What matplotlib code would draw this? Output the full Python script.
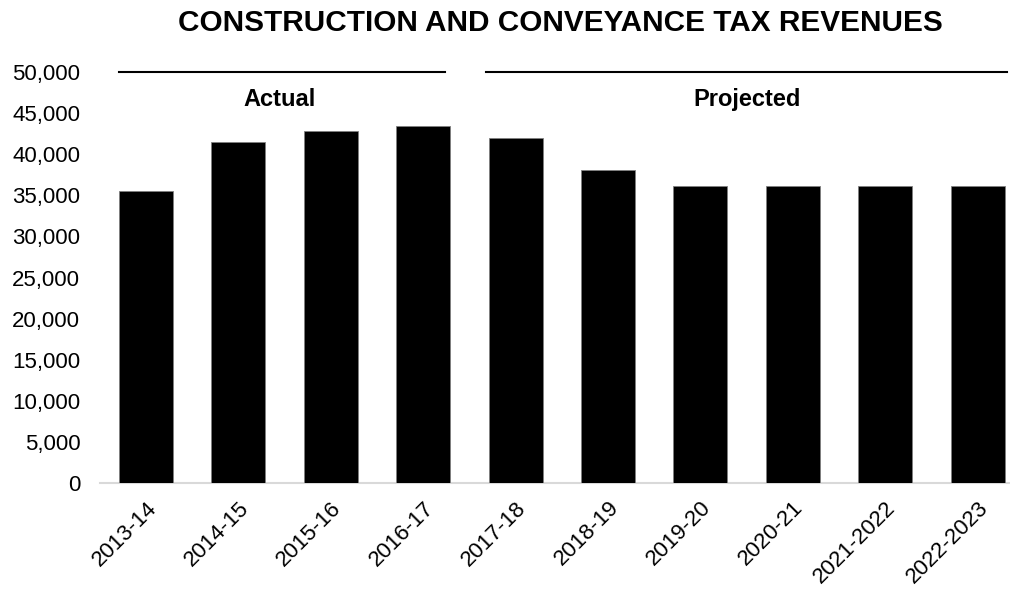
import matplotlib
matplotlib.use("Agg")
import matplotlib.pyplot as plt
from matplotlib.ticker import FuncFormatter

plt.rcParams['font.family'] = ['Liberation Sans', 'DejaVu Sans']

title = "CONSTRUCTION AND CONVEYANCE TAX REVENUES"
years = ["2013-14", "2014-15", "2015-16", "2016-17", "2017-18", "2018-19",
         "2019-20", "2020-21", "2021-2022", "2022-2023"]
revenues = [35500, 41400, 42800, 43400, 42000, 38100, 36100, 36100, 36100, 36100]
y_ticks = list(range(0, 50001, 5000))
period_labels = ["Actual", "Projected"]

fig = plt.figure(figsize=(10.10, 5.92), dpi=100)
ax = fig.add_axes([0.0988, 0.1833, 0.9012, 0.6957])

x = list(range(len(years)))
ax.bar(x, revenues, width=0.585, color="black", edgecolor="#808080", linewidth=0.6, zorder=3)

ax.set_xlim(-0.5, 9.35)
ax.set_ylim(0, 50000)
ax.set_yticks(y_ticks)
ax.yaxis.set_major_formatter(FuncFormatter(lambda v, p: f"{int(v):,}"))
ax.set_xticks(x)
ax.set_xticklabels(years, rotation=45, ha="right", rotation_mode="anchor")

for s in ["top", "right", "left"]:
    ax.spines[s].set_visible(False)
ax.spines["bottom"].set_color("#d9d9d9")
ax.spines["bottom"].set_linewidth(1.5)
ax.tick_params(axis="y", length=0, pad=14, labelsize=16, colors="#000000")
ax.tick_params(axis="x", length=0, pad=10, labelsize=16)

# period annotation lines
ax.plot([-0.29, 3.24], [49950, 49950], color="black", lw=1.5, clip_on=False)
ax.plot([3.68, 9.32], [49950, 49950], color="black", lw=1.5, clip_on=False)
ax.text(1.45, 46600, period_labels[0], ha="center", va="center",
        fontsize=17, fontweight="bold")
ax.text(6.5, 46600, period_labels[1], ha="center", va="center",
        fontsize=17, fontweight="bold")

fig.text(0.5545, 0.961, title, ha="center", va="center", fontsize=21.4, fontweight="bold")

fig.savefig("out.png", dpi=100)
